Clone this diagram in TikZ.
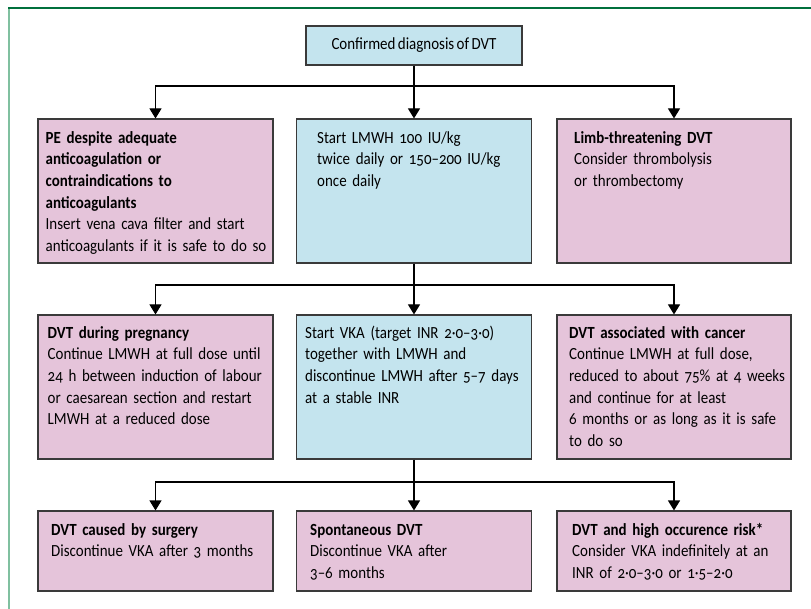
\documentclass[tikz,border=0pt]{standalone}
\usepackage{fontspec}
\setmainfont{Carlito}[Numbers=OldStyle, FakeStretch=0.88, WordSpace=0.72]
\usetikzlibrary{arrows.meta}
\definecolor{boxpink}{HTML}{E5C4DA}
\definecolor{boxblue}{HTML}{C4E4EE}
\definecolor{edgegray}{HTML}{3A3A3A}
\definecolor{framedark}{HTML}{00703C}
\definecolor{framemint}{HTML}{80C0A0}
\newcommand{\firstline}{\rule{0pt}{14pt}}
\begin{document}
\begin{tikzpicture}[x=1pt,y=-1pt,
  box/.style={draw=edgegray, line width=1.1pt, inner sep=0pt, minimum width=235pt, minimum height=144pt},
  pinkbox/.style={box, fill=boxpink},
  bluebox/.style={box, fill=boxblue},
  txt/.style={anchor=north west, inner sep=0pt, align=left, text width=232pt, font=\fontsize{17}{21.7}\selectfont},
  arr/.style={line width=1.1pt, -{Triangle[length=10pt,width=12pt]}},
  link/.style={line width=1.1pt}]
\useasboundingbox (0,0) rectangle (811,609);
% frame
\draw[framemint, line width=2.3pt] (8.8,8) -- (8.8,609);
\draw[framedark, line width=1.7pt] (8,8) -- (811,8);
% boxes
\node[bluebox, minimum width=216pt, minimum height=39pt, font=\fontsize{17}{21.7}\selectfont] (top) at (414,45.5) {Confirmed diagnosis of DVT};
\node[pinkbox] (a1) at (155.5,191) {};
\node[bluebox] (b1) at (414,191) {};
\node[pinkbox, minimum width=234pt] (c1) at (674,191) {};
\node[pinkbox] (a2) at (155.5,387) {};
\node[bluebox] (b2) at (414,387) {};
\node[pinkbox, minimum width=234pt] (c2) at (674,387) {};
\node[pinkbox, minimum height=80pt] (a3) at (155.5,551) {};
\node[pinkbox, minimum height=80pt] (b3) at (414,551) {};
\node[pinkbox, minimum height=80pt, minimum width=234pt] (c3) at (674,551) {};
% texts
\node[txt] (ta1) at (45.5,129) {\firstline\textbf{PE despite adequate}\\\textbf{anticoagulation or}\\\textbf{contraindications to}\\\textbf{anticoagulants}\\Insert vena cava filter and start\\anticoagulants if it is safe to do so};
\node[txt] (tb1) at (317,129) {\firstline Start LMWH 100 IU/kg\\twice daily or 150–200 IU/kg\\once daily};
\node[txt] (tc1) at (574,129) {\firstline\textbf{Limb-threatening DVT}\\Consider thrombolysis\\or thrombectomy};
\node[txt] (ta2) at (47.5,324) {\firstline\textbf{DVT during pregnancy}\\Continue LMWH at full dose until\\24 h between induction of labour\\or caesarean section and restart\\LMWH at a reduced dose};
\node[txt] (tb2) at (305,324) {\firstline Start VKA (target INR 2·0–3·0)\\together with LMWH and\\discontinue LMWH after 5–7 days\\at a stable INR};
\node[txt] (tc2) at (569,324) {\firstline\textbf{DVT associated with cancer}\\Continue LMWH at full dose,\\reduced to about 75\% at 4 weeks\\and continue for at least\\6 months or as long as it is safe\\to do so};
\node[txt] (ta3) at (51,521) {\firstline\textbf{DVT caused by surgery}\\Discontinue VKA after 3 months};
\node[txt] (tb3) at (310,521) {\firstline\textbf{Spontaneous DVT}\\Discontinue VKA after\\3–6 months};
\node[txt] (tc3) at (572,521) {\firstline\textbf{DVT and high occurence risk*}\\Consider VKA indefinitely at an\\INR of 2·0–3·0 or 1·5–2·0};
% junctions
\coordinate (j1) at (414,86);
\coordinate (j2) at (414,285);
\coordinate (j3) at (414,482);
% connectors
\draw[link] (top.south) -- (j1);
\draw[arr] (j1) -- (b1.north);
\draw[arr] (j1) -| (a1.north);
\draw[arr] (j1) -| (c1.north);
\draw[link] (b1.south) -- (j2);
\draw[arr] (j2) -- (b2.north);
\draw[arr] (j2) -| (a2.north);
\draw[arr] (j2) -| (c2.north);
\draw[link] (b2.south) -- (j3);
\draw[arr] (j3) -- (b3.north);
\draw[arr] (j3) -| (a3.north);
\draw[arr] (j3) -| (c3.north);
\end{tikzpicture}
\end{document}
